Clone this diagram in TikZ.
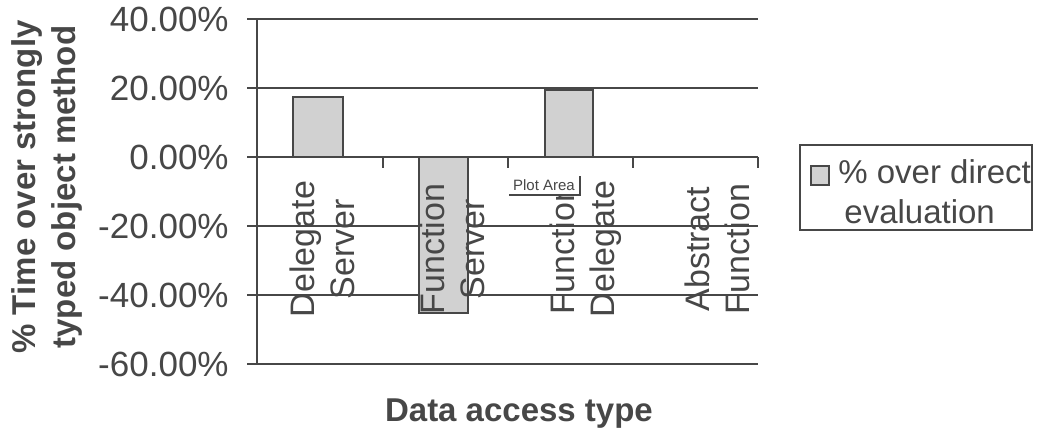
\documentclass[tikz,border=0pt]{standalone}
\usepackage{fontspec}
\setmainfont{Liberation Sans}
\definecolor{gridgray}{gray}{0.28}
\definecolor{barfill}{gray}{0.82}
\tikzset{
  gridline/.style={draw=gridgray,line width=1pt},
  bar/.style={draw=gridgray,fill=barfill,line width=1pt},
  ticklabel/.style={anchor=east,text=gridgray,font=\fontsize{17.5}{20}\selectfont,inner sep=0pt},
  catlabel/.style={rotate=90,align=center,text=gridgray,font=\fontsize{17}{20}\selectfont,inner sep=0pt},
  axistitle/.style={align=center,text=gridgray,font=\fontsize{16.5}{20}\selectfont\bfseries,inner sep=0pt}
}
\begin{document}
\begin{tikzpicture}[x=0.5pt,y=-0.5pt]
	\useasboundingbox (0,0) rectangle (1041,440);
	% value axis: 0% at y=157, 3.45px per percent
	\foreach \v/\lab in {40/40.00\%,20/20.00\%,0/0.00\%,-20/-20.00\%,-40/-40.00\%,-60/-60.00\%} {
		\draw[gridline] (247,{157-3.45*\v}) -- (758,{157-3.45*\v});
		\node[ticklabel] at (229,{157-3.45*\v}) {\lab};
	}
	\draw[gridline] (257,18) -- (257,364);
	\foreach \x in {383,508,633,758}
		\draw[gridline] (\x,157) -- (\x,168);
	% bars
	\draw[bar] (293,157) rectangle (343,{157-3.45*17.4});
	\draw[bar] (419,157) rectangle (468,{157+3.45*45.3});
	\draw[bar] (545,157) rectangle (593,{157-3.45*19.5});
	% category labels
	\node[catlabel] (ds) at (322,249) {Delegate\\Server};
	\node[catlabel] (fs) at (452,249) {Function\\Server};
	\node[catlabel] (fd) at (586,249) {Function\\Delegate};
	\node[catlabel] (af) at (717,249) {Abstract\\Function};
	% tooltip
	\node[fill=white,inner sep=0pt,minimum width=70pt/2,minimum height=20pt/2,anchor=south east] (tip) at (580,195) {};
	\node[text=gridgray,font=\fontsize{7.5}{9}\selectfont,inner sep=0pt] (tiptext) at (544,185) {Plot Area};
	\draw[gridgray,line width=0.8pt] (tip.south west) -- (tip.south east) -- ([yshift=-1pt]tip.north east);
	% axis titles
	\node[axistitle,rotate=90] (ytitle) at (47,187) {\% Time over strongly\\typed object method};
	\node[axistitle] (xtitle) at (519,414) {Data access type};
	% legend
	\draw[gridgray,line width=0.8pt] (800,145) rectangle (1032,230);
	\draw[bar,line width=0.6pt] (811,166) rectangle (829,185);
	\node[anchor=west,align=left,text=gridgray,font=\fontsize{16.5}{20}\selectfont,inner sep=0pt] (legtext) at (838,192) {\% over direct\\\hspace{3pt}evaluation};
\end{tikzpicture}
\end{document}
